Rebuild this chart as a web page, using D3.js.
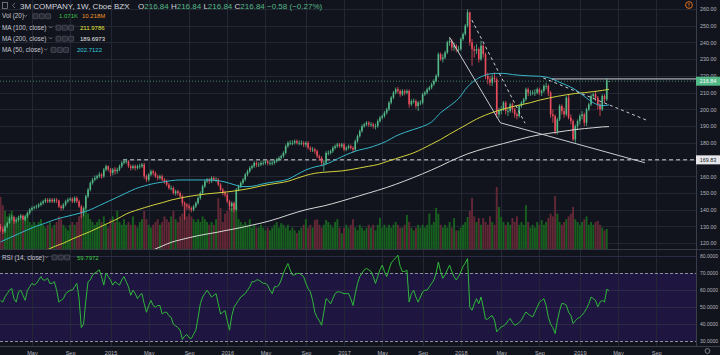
<!DOCTYPE html>
<html><head><meta charset="utf-8">
<script src="https://cdn.jsdelivr.net/npm/d3@7"></script>
<style>
html,body{margin:0;padding:0;background:#12141d;overflow:hidden}
svg{display:block}
text{font-family:"Liberation Sans",Arial,sans-serif}
</style></head><body>
<svg id="c" width="720" height="355"></svg>
<script>
// ---------------- DATA ----------------
const firstWeek = "2014-01-27";   // weekly bars, one per Monday
const close = [
128.5,127,130,132,135,135.5,133,134,135,136.5,134,136,
138,140,141,141.5,142,143,144,145,146,145,146,145,
146,145.5,142,141,143,145,146,146.5,145,147,145,142,
138,141,148,152,156,158,159,160,161,160,164,166,
164,162,164,163,164,166,168,169,169,166,165,166,
165,166,166,167,160,158,161,163,162,160,159,160,
158,157,155,153,153,150,151,150,148,144,143,142,
141,140,142,144,147,150,154,157,158,157,159,158,
158,155,152,150,149,145,142,144,140,152,154,156,
158,161,163,165,166,168,167,167,168,168,169,168,
168,168,169,170,171,172,174,178,180,180,180,181,
180,180,180,179,180,177,176,176,175,172,171,168,
168,174,174,175,177,178,179,178,179,176,177,178,
177,176,181,184,187,190,191,192,191,191,190,190,
193,195,196,198,200,204,207,210,212,211,209,211,
210,211,203,205,205,202,204,204,209,210,212,213,
215,217,220,233,230,231,234,240,241,237,238,236,
236,242,245,250,258,240,236,235,236,230,238,233,
220,218,216,219,218,197,199,200,204,199,199,203,
200,197,196,202,204,206,212,210,210,210,210,212,
210,211,214,214,210,197,196,187,194,202,199,197,
207,195,193,182,190,193,196,197,192,200,203,208,
209,207,203,200,208,206,217.42,216.84];
const open = [
130,128.5,127,130,132,135,135.5,133,134,135,136.5,134,
136,138,140,141,141.5,142,143,144,145,146,145,146,
145,146,145.5,142,141,143,145,146,146.5,145,147,145,
142,138,141,148,152,156,158,159,160,161,160,164,
166,164,162,164,163,164,166,168,169,169,166,165,
166,165,166,166,167,160,158,161,163,162,160,159,
160,158,157,155,153,153,150,151,150,148,144,143,
142,141,140,142,144,147,150,154,157,158,157,159,
158,158,155,152,150,149,145,142,144,140,152,154,
156,158,161,163,165,166,168,167,167,168,168,169,
168,168,168,169,170,171,172,174,178,180,180,180,
181,180,180,180,179,180,177,176,176,175,172,171,
168,168,174,174,175,177,178,179,178,179,176,177,
178,177,176,181,184,187,190,191,192,191,191,190,
190,193,195,196,198,200,204,207,210,212,211,209,
211,210,211,203,205,205,202,204,204,209,210,212,
213,215,217,220,233,230,231,234,240,241,237,238,
236,236,242,245,250,258,240,236,235,236,230,238,
233,220,218,216,219,218,197,199,200,204,199,199,
203,200,197,196,202,204,206,212,210,210,210,210,
212,210,211,214,214,210,197,196,187,194,202,199,
197,207,195,193,182,190,193,196,197,192,200,203,
208,209,207,203,200,208,206,216.84];
const high = [
131.5,130,131,133,136,137,136.5,135.5,136.5,137.5,137,137,
139,141,142,142.5,143,144,145,146,147,147,147,147,
147,147,146,143,144,146,147,147.5,147.5,148,148,146,
143,142,149,153,157,159,160.5,161,162.5,162,165,167,
166.5,165,165,165.5,165,167,169,170,170.5,169.5,167,167,
167,167,167.5,168,168,161,162,164,164,163,161,161,
161,159,158,156,154.5,154,152,152,151,149,145,144,
143.5,142,143,145,148,151,155,158,159,159,160,160,
159.5,159,156,153,151.5,150,146,145,145,153,155,157,
159,162,164,166,167,169,169,168.5,169,169.5,170,170,
169.5,169.5,170,171,172,173,175,179,181,181.5,181.5,182,
182,181.5,181.5,181,181,181,178,177.5,177,176,173,172,
169.5,175,175.5,176,178,179,180,180,180,180,178,179,
179,178,182,185,188,191,192,193,193,192.5,192,191.5,
194,196,197,199,201,205,208,211,213,213.5,212,212,
212,212,212,206,206.5,206,205,205.5,210,211,213,214,
216,218,221,234,234,233,235,241,243,242,240,239,
238,243,246,251,259.7,258.5,242,238,239,237,241,239,
234,222,220,221,222,219,201,202,205,205,201,204,
204,201,198,203,205,207,213,213,211.5,211.5,212,213,
213,212,215,216,215,211,200,197,195,203,203,201,
208,209,197,194,191,194,197,199,198,201,204,209,
210,211,208,204,209,209,218.5,216.84];
const low = [
127,125.5,126,129,131.5,133.5,131.5,132,133,134,132.5,133,
135,137,139,140,140.5,141,142,143,144,144,144,144,
144,144,141,139.5,140,142,144,145,144,144,144,141,
135,136,140,147,151,155,157,158,159,158.5,159,163,
163,160,160.5,161,161.5,163,165,167,167.5,165,163.5,164,
163.5,164,164.5,165,158.5,156.5,157,160,160.5,159,157.5,158,
157,155.5,154,152,151.5,149,148.5,148.5,147,142,134,140,
139.5,138.5,139,141,143,146,149,153,156,155.5,156,157,
156.5,154,151,148.5,147.5,144,140,139,138.5,139.5,151,153,
155,157,160,162,164,165,165.5,165.5,166,166.5,167,166.5,
166.5,166.5,167,168,169,170,171,173,177,178.5,178.5,179,
179,178.5,178.5,177.5,177.5,176,174.5,174.5,173.5,171,169.5,166,
163,167,172.5,173,174,176,177,177,177,175,175,176,
176,174,175,180,183,186,189,190,189.5,189.5,188.5,188,
189,192,194,195,197,199,203,206,209,209.5,207.5,208,
208.5,209,201,202,203.5,200.5,199,202.5,203,208,209,211,
212,214,216,219,229,228,230,233,238,235,235,234,
234,235,241,244,249,238,226,231,233,228,229,231,
218,215,214,214,216,195,195,197,199,197,196,198,
198,195,194,195,201,203,205,208,208,208.5,208,209,
208.5,208,210,212,208,195,192,185,185,193,197,195,
196,194,191,181,180,188,191,194,190,190,199,202,
206,205,200,196,199,204,205,216.84];
// weekly volume, millions of shares
const volume = [
19,16,14,12,13,14,11,10,12,11,10,12,
13,10,9,10,9,10,11,9,8,9,10,8,
9,10,12,11,9,8,7,9,10,9,10,12,
14,13,15,13,11,10,9,10,11,10,12,9,
8,11,12,10,14,10,9,11,9,10,9,12,
9,8,10,11,14,11,9,8,9,10,11,9,
10,12,11,10,12,14,11,10,12,13,16,12,
13,12,11,10,11,10,12,11,10,9,10,9,
11,18.5,15,10,13,14,15,15,14,16,11,10,
9,10,9,11,8,9,8,8,9,8,7,8,
7,8,9,10,8,9.6,9,8,9,7,8,7,
6,7,8,9,11,8,9,8,10.7,11,9,8,
9,10.7,10,9,8,10,11,8,6,8,9,8,
9,11,8,7,9,8,7,8,9,8,9,7,
9,11.5,8,9,8,9,8,9,10,9,8,8,
9,12.5,10,8,7,8,9,8,9,8,9,13,
9,10,15,13,9,8,9,8,10,8,11.4,7,
7,8,9,10,11.8,14,18.6,12,10,11.4,9,11.4,
10,9,12,10,9,22.5,15.4,11.8,10,9,10,9,
11.4,10,12,9,10,9,16,10,8,9,8,10,
9,10.7,9,10,11.4,13,12,19.3,13,10,9,10,
11,12,13,15.4,11,10,9,10,11,12,9,10,
9,10,10.4,9,8,7,7.5,0.001071];
const rsi = [
54,53,56,58,60,61,55,53,59,60,57,54,
60,62,64,63,64,66,68,66,66,67,64,64,
65,60,53,54,55,58,59,60,60,62,64,55,
38,40,54,65,66,69,70,71,72,68,63,70,
68,66,63,65,64,63,66,68,65,62,57,60,
58,55,57,58,52,47,51,54,51,50,51,51,
46,47,47,45,44,40,39,38,36.5,31,33,34,
32,31.6,34,36.5,44,52,56,58,60,58,56,57,
58,52,46,47,48,42,36.5,45,50,52,54,56,
57,58,60,62,65,65,66,66,65,64,64,63,
60,58,62,62,63,66,70,73,75.7,72,69,69,
69.8,70,69,68,64,61,59,54,47,44,42,39.4,
47,55,54,52,55,58,59,59,58.5,58,58,58,
55,51,58,64,68,70,72,72.8,72,71,68,64,
68,72,74.7,71,68,72,76,77.6,79,80.6,74,71,
71,71.8,53,58,60,56,53,56,59,60,60,62,
64,66,70,76.6,71,67,69,72,74.7,71,68,66,
68,70.8,74,76,78.6,50,48.2,52,55,52,56,50,
43,43,44.3,45,42.4,35.5,37,38.4,39,40,42,43.4,
41,39.4,40,41,42.4,45,47.2,46,45,44.3,47,50,
53,54,55,51,44,40,38,34.5,42,48,52.2,52,
51.2,47,45.3,40.4,42,43.4,44,45.3,47,49.2,52,56,
55,54,50.2,53,54,53,60.5,59.8];
// moving averages read every 4th week (week 0,4,8,...,268), last value from legend
const ma50 = [120.8,123.2,125.6,128,130.2,132,134,135.5,136.8,138.2,
140,142.5,145,147.5,150,152.5,154.2,155.6,156.5,157.4,
157.8,157.8,157.8,157.8,157.5,156.6,155,153.8,154,155.2,
156.3,157,158.2,161,163.8,165.6,166.8,169,171.7,174,
175.8,177,178.8,181,184,186.2,188,189.8,192.5,198,
202,206.5,213.5,218,220.5,221.5,221.5,220.8,220.3,220,
219.8,219,216.8,214.5,211.8,207.8,204,202.2];
const ma100 = [null,null,null,null,null,115.5,118,120,122.5,124.8,
127,129.5,132,134.5,137.5,139.5,141.2,142.8,144.2,145.8,
147,148,148.8,149.5,150,150.5,151.2,152,153,154.2,
155.2,156,157,158.8,160.5,161.8,162.4,162.8,163.2,164,
165,166,167,168.8,170.5,172.2,174,176.5,179.2,182,
185.2,188.2,191.2,194.2,196.6,198.6,200.2,201.6,202.8,204,
205.5,206.7,207.8,208.7,209.5,210,210.6,211.3];
const ma200 = [null,null,null,null,null,null,null,null,null,null,
null,null,null,null,null,null,114,116,118.3,120.5,
122,123.3,124.5,125.5,126.4,127.5,128.5,129.6,130.8,132,
133.4,135,136.8,138.5,140,141.2,142.3,143.7,145.2,146.8,
148.4,150,151.6,153.3,155.2,157.2,159.3,161.5,163.8,166.2,
168.8,171.2,173.4,175.2,176.8,178.2,179.6,181,182.4,183.7,
184.8,185.6,186.4,187.2,187.9,188.5,189,189.5];
const maLast = [202.7122, 211.9786, 189.6973]; // MA50, MA100, MA200
const volLast = "1.071K", volAvg = "10.218M", rsiLast = "59.7972";
// drawings: [week index, price]
const trendSolid = [[200, 243.1], [222.6, 192], [287, 168.1]];
const trendDash1 = [[209.9, 253.4], [233.6, 191.7]];
const trendDash2 = [[241.7, 218.8], [288, 193.4]];
const resistanceLine = [245.5, 218.2];
const supportLine = [54.6, 169.83];
// ticks
const priceTicks = [120,130,140,150,160,170,180,190,200,210,220,230,240,250,260];
const rsiTicks = [30,40,50,60,70,80];
const timeTickDates = ["2014-05-05","2014-09-01","2015-01-05","2015-05-04","2015-09-07","2016-01-04",
 "2016-05-02","2016-09-05","2017-01-02","2017-05-01","2017-09-04","2018-01-01","2018-05-07",
 "2018-09-03","2019-01-07","2019-05-06","2019-09-02"];
const timeTickLabels = ["May","Sep","2015","May","Sep","2016","May","Sep","2017","May","Sep","2018",
 "May","Sep","2019","May","Sep"];

// ---------------- CHART ----------------
const svg = d3.select("#c");
const R = 696, P1 = 250, Q1 = 346;
const parse = d3.utcParse("%Y-%m-%d");
const t0 = parse(firstWeek);
const WEEK = 7 * 864e5;
const wk = i => new Date(t0.getTime() + i * WEEK);
const N = Math.min(close.length, open.length, high.length, low.length);
const x = d3.scaleUtc().domain([wk(0), wk(N - 1)]).range([0.5, 609]);
const y = d3.scaleLinear().domain([120, 260]).range([243.2, 9]);
const yr = d3.scaleLinear().domain([30, 70]).range([341.2, 273.2]);
const yv = d3.scaleLinear().domain([0, 25]).range([P1, P1 - 70]);

const C = {bg:"#12141d", grid:"#232733", up:"#53b987", dn:"#eb4d5c", vup:"#17601f", vdn:"#632836",
  ma50:"#35b7c9", ma100:"#d2d23c", ma200:"#d6d6d6", rsi:"#2fb83a", txt:"#b2b5be", draw:"#c9cbd3"};

const defs = svg.append("defs");
defs.append("clipPath").attr("id","cp").append("rect").attr("x",0).attr("y",0).attr("width",R).attr("height",P1);
defs.append("clipPath").attr("id","cr").append("rect").attr("x",0).attr("y",P1).attr("width",R).attr("height",Q1-P1);

svg.append("rect").attr("width",720).attr("height",355).attr("fill",C.bg);

// RSI band
svg.append("rect").attr("x",0).attr("width",R).attr("y",yr(70)).attr("height",yr(30)-yr(70)).attr("fill","#1e1540");

// grid
const tickDates = timeTickDates.map(parse);
const grid = svg.append("g").attr("stroke",C.grid).attr("stroke-width",1);
grid.selectAll(".v").data(tickDates).join("line")
  .attr("x1",d=>Math.round(x(d))+0.5).attr("x2",d=>Math.round(x(d))+0.5).attr("y1",0).attr("y2",Q1);
grid.selectAll(".h").data(priceTicks).join("line")
  .attr("x1",0).attr("x2",R).attr("y1",d=>Math.round(y(d))+0.5).attr("y2",d=>Math.round(y(d))+0.5);
grid.selectAll(".r").data(rsiTicks.filter(d=>d!==70&&d!==30)).join("line")
  .attr("stroke","#2d2946")
  .attr("x1",0).attr("x2",R).attr("y1",d=>Math.round(yr(d))+0.5).attr("y2",d=>Math.round(yr(d))+0.5);
svg.append("g").selectAll("line").data([70,30]).join("line")
  .attr("x1",0).attr("x2",R).attr("y1",d=>Math.round(yr(d))+0.5).attr("y2",d=>Math.round(yr(d))+0.5)
  .attr("stroke","#8d8f9c").attr("stroke-dasharray","3,2").attr("stroke-width",1);

// price pane
const gp = svg.append("g").attr("clip-path","url(#cp)");
const idx = d3.range(N);
// volume
gp.append("g").selectAll("rect").data(idx).join("rect")
  .attr("x",i=>x(wk(i))-0.95).attr("width",1.9)
  .attr("y",i=>yv(volume[i])).attr("height",i=>P1-yv(volume[i]))
  .attr("fill",i=>close[i]>=open[i]?C.vup:C.vdn);
// support / resistance / price line
gp.append("line").attr("x1",x(wk(supportLine[0]))).attr("x2",R).attr("y1",y(supportLine[1])).attr("y2",y(supportLine[1]))
  .attr("stroke","#d8d8de").attr("stroke-dasharray","4,3").attr("stroke-width",1);
gp.append("line").attr("x1",0).attr("x2",R).attr("y1",y(close[N-1])).attr("y2",y(close[N-1]))
  .attr("stroke",C.up).attr("stroke-opacity",0.7).attr("stroke-dasharray","1,2").attr("stroke-width",1);
// candles
const cg = gp.append("g");
cg.selectAll("line").data(idx).join("line")
  .attr("x1",i=>x(wk(i))).attr("x2",i=>x(wk(i))).attr("y1",i=>y(high[i])).attr("y2",i=>y(low[i]))
  .attr("stroke",i=>close[i]>=open[i]?C.up:C.dn).attr("stroke-width",0.8);
cg.selectAll("rect").data(idx).join("rect")
  .attr("x",i=>x(wk(i))-0.8).attr("width",1.6)
  .attr("y",i=>y(Math.max(open[i],close[i])))
  .attr("height",i=>Math.max(0.8, Math.abs(y(open[i])-y(close[i]))))
  .attr("fill",i=>close[i]>=open[i]?C.up:C.dn);
// moving averages
function maPts(arr,last){const p=[];arr.forEach((v,k)=>{if(v!=null)p.push([wk(4*k),v]);});p.push([wk(N-1),last]);return p;}
const maLine = d3.line().x(d=>x(d[0])).y(d=>y(d[1])).curve(d3.curveMonotoneX);
[[ma200,maLast[2],C.ma200],[ma100,maLast[1],C.ma100],[ma50,maLast[0],C.ma50]].forEach(([a,l,c])=>{
  gp.append("path").attr("d",maLine(maPts(a,l))).attr("fill","none").attr("stroke",c).attr("stroke-width",1);
});
// drawings
const dLine = d3.line().x(d=>x(wk(d[0]))).y(d=>y(d[1]));
gp.append("path").attr("d",dLine(trendSolid)).attr("fill","none").attr("stroke",C.draw).attr("stroke-width",1);
gp.append("path").attr("d",dLine(trendDash1)).attr("fill","none").attr("stroke",C.draw).attr("stroke-width",1).attr("stroke-dasharray","3,3");
gp.append("path").attr("d",dLine(trendDash2)).attr("fill","none").attr("stroke",C.draw).attr("stroke-width",1).attr("stroke-dasharray","3,3");
gp.append("line").attr("x1",x(wk(resistanceLine[0]))).attr("x2",R).attr("y1",y(resistanceLine[1])).attr("y2",y(resistanceLine[1]))
  .attr("stroke","#d0d2d8").attr("stroke-width",1);

// RSI
const gr = svg.append("g").attr("clip-path","url(#cr)");
gr.append("path").attr("d",d3.line().x((d,i)=>x(wk(i))).y(d=>yr(d))(rsi))
  .attr("fill","none").attr("stroke",C.rsi).attr("stroke-width",1);

// separators
svg.append("line").attr("x1",0).attr("x2",720).attr("y1",P1-0.5).attr("y2",P1-0.5).attr("stroke","#363a47");
svg.append("line").attr("x1",R+0.5).attr("x2",R+0.5).attr("y1",0).attr("y2",Q1).attr("stroke","#3a3e4b");
svg.append("line").attr("x1",0).attr("x2",720).attr("y1",Q1+0.5).attr("y2",Q1+0.5).attr("stroke","#3a3e4b");

// axes
function styleAxis(g,size){g.select(".domain").remove();g.selectAll("line").remove();
  g.selectAll("text").attr("fill",C.txt).style("font-size",size+"px").style("font-family","'Liberation Sans',Arial,sans-serif");}
svg.append("g").attr("transform",`translate(${R},0)`)
  .call(d3.axisRight(y).tickValues(priceTicks).tickFormat(d3.format(".2f")).tickSize(0).tickPadding(4))
  .call(g=>styleAxis(g,5.4));
svg.append("g").attr("transform",`translate(${R},0)`)
  .call(d3.axisRight(yr).tickValues(rsiTicks).tickFormat(d3.format(".4f")).tickSize(0).tickPadding(4))
  .call(g=>styleAxis(g,5));
svg.append("g").attr("transform",`translate(0,${Q1})`)
  .call(d3.axisBottom(x).tickValues(tickDates).tickFormat((d,i)=>timeTickLabels[i]).tickSize(0).tickPadding(5.5))
  .call(g=>styleAxis(g,5.6));

// price labels on axis
function axisBox(p,fill,tc){
  const yy=y(p);
  svg.append("rect").attr("x",R).attr("y",yy-4.5).attr("width",24).attr("height",9).attr("fill",fill);
  svg.append("text").attr("x",R+12).attr("y",yy+1.9).attr("text-anchor","middle").attr("fill",tc)
    .style("font-size","5.4px").text(d3.format(".2f")(p));
}
axisBox(supportLine[1],"#e6e6ea","#131722");
svg.append("line").attr("x1",R).attr("x2",720).attr("y1",y(resistanceLine[1])).attr("y2",y(resistanceLine[1])).attr("stroke","#d0d2d8");
axisBox(close[N-1],C.up,"#ffffff");

// legend
const L = svg.append("g");
function chev(xx,yy){L.append("path").attr("d",`M${xx},${yy} l1.6,1.6 l1.6,-1.6`).attr("fill","none").attr("stroke","#9598a1").attr("stroke-width",0.7);}
function icons(xx,yy){for(let k=0;k<3;k++){L.append("rect").attr("x",xx+k*6.3).attr("y",yy).attr("width",5).attr("height",5).attr("rx",0.6)
  .attr("fill","#262a35").attr("stroke","#6a6d78").attr("stroke-width",0.5);}}
L.append("rect").attr("x",2.5).attr("y",2.5).attr("width",5).attr("height",6).attr("fill","none").attr("stroke","#8f929c").attr("stroke-width",0.7);
L.append("path").attr("d","M15,3 L12.5,5.5 L15,8").attr("fill","none").attr("stroke","#8f929c").attr("stroke-width",0.7);
L.append("text").attr("x",20).attr("y",9).attr("fill","#d1d4dc").style("font-size","8px").text("3M COMPANY, 1W, Cboe BZX");
chev(123,4.5);
const ohlc = L.append("text").attr("x",138).attr("y",9).style("font-size","8px");
[["O","216.84"],[" H","216.84"],[" L","216.84"],[" C","216.84"]].forEach(([a,b])=>{
  ohlc.append("tspan").attr("fill","#d1d4dc").text(a);
  ohlc.append("tspan").attr("fill",C.up).text(b);
});
ohlc.append("tspan").attr("fill",C.up).text(" \u22120.58 (\u22120.27%)");

const rows = [
  {y:18.3, label:"Vol (20)", chev:24, ic:33, vals:[[volLast,"#39c24a",59],[volAvg,"#f0922a",82]]},
  {y:29.8, label:"MA (100, close)", chev:49, ic:56, vals:[[d3.format(".4f")(maLast[1]),"#e4e43c",80]]},
  {y:40.8, label:"MA (200, close)", chev:49, ic:56, vals:[[d3.format(".4f")(maLast[2]),"#e6e6e6",80]]},
  {y:52, label:"MA (50, close)", chev:44, ic:51, vals:[[d3.format(".4f")(maLast[0]),"#33c9da",77]]},
  {y:259.5, label:"RSI (14, close)", chev:45, ic:52, vals:[[rsiLast,"#3ccc44",77]]}
];
rows.forEach(r=>{
  L.append("text").attr("x",2).attr("y",r.y).attr("fill","#c3c6ce").style("font-size","6.4px").text(r.label);
  chev(r.chev,r.y-3.4);
  icons(r.ic,r.y-4.6);
  r.vals.forEach(([t,c,xx])=>L.append("text").attr("x",xx).attr("y",r.y).attr("fill",c).style("font-size","6px").text(t));
});
// top-right alert icon and bottom-right gear
svg.append("circle").attr("cx",689).attr("cy",5).attr("r",3.4).attr("fill","none").attr("stroke","#f57c1f").attr("stroke-width",0.9);
svg.append("line").attr("x1",689).attr("x2",689).attr("y1",3).attr("y2",5.6).attr("stroke","#f57c1f").attr("stroke-width",0.9);
svg.append("circle").attr("cx",689).attr("cy",6.9).attr("r",0.45).attr("fill","#f57c1f");
svg.append("circle").attr("cx",707.5).attr("cy",351).attr("r",2.4).attr("fill","none").attr("stroke","#9598a1").attr("stroke-width",0.8);
</script>
</body></html>
